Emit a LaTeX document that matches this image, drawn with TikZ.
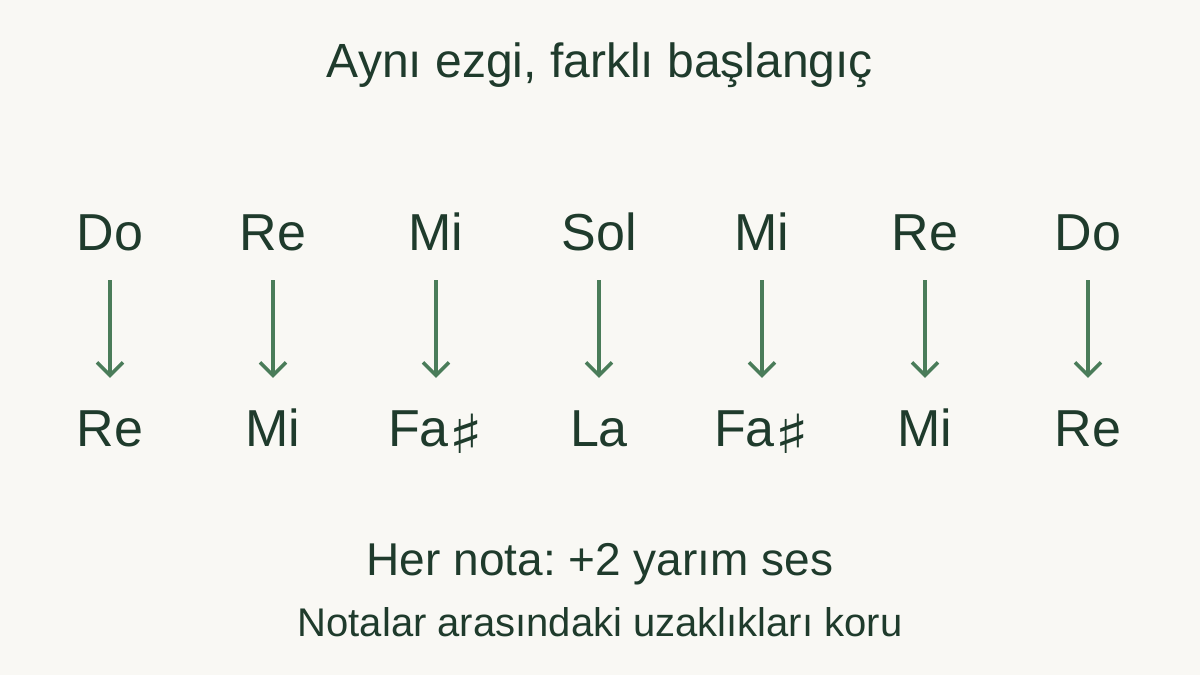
\documentclass[tikz,border=0pt]{standalone}
\usepackage{fontspec}
\usepackage{graphicx}
\setmainfont{Liberation Sans}
\newfontfamily\sharpfont{DejaVu Sans}
\usetikzlibrary{arrows.meta}

\definecolor{zemin}{HTML}{F9F8F4}
\definecolor{yazi}{HTML}{1F3B2C}
\definecolor{ok}{HTML}{4A7C59}

\newcommand{\diyez}{\raisebox{-7pt}{\scalebox{1.35}[1]{\sharpfont\fontsize{54}{54}\selectfont\char"266F}}}
\frenchspacing

\tikzset{
  nota/.style={inner sep=0pt, anchor=base, text=yazi, text height=36pt, text depth=0pt,
    font=\fontsize{52}{56}\selectfont},
  kaydir/.style={draw=ok, line width=3.5pt, -{Straight Barb[length=13pt,width=26pt]},
    shorten <=30pt, shorten >=32pt}
}

\begin{document}
\begin{tikzpicture}[x=1pt,y=1pt]
            \path[use as bounding box, fill=zemin] (0,0) rectangle (1200,-675);

            % baslik
            \node[inner sep=0pt, anchor=base, text=yazi, font=\fontsize{48}{52}\selectfont]
                (baslik) at (600,-77) {Aynı ezgi, farklı başlangıç};

            % ilk ezgi
            \node[nota] (ust1) at (110,-250) {Do};
            \node[nota] (ust2) at (273,-250) {Re};
            \node[nota] (ust3) at (436,-250) {Mi};
            \node[nota] (ust4) at (599,-250) {Sol};
            \node[nota] (ust5) at (762,-250) {Mi};
            \node[nota] (ust6) at (925,-250) {Re};
            \node[nota] (ust7) at (1088,-250) {Do};

            % kaydirilmis ezgi
            \node[nota] (alt1) at (110,-446) {Re};
            \node[nota] (alt2) at (273,-446) {Mi};
            \node[nota] (alt3) at (436,-446) {Fa\diyez};
            \node[nota] (alt4) at (599,-446) {La};
            \node[nota] (alt5) at (762,-446) {Fa\diyez};
            \node[nota] (alt6) at (925,-446) {Mi};
            \node[nota] (alt7) at (1088,-446) {Re};

            \draw[kaydir] (ust1.south) -- (alt1.north);
            \draw[kaydir] (ust2.south) -- (alt2.north);
            \draw[kaydir] (ust3.south) -- (alt3.north);
            \draw[kaydir] (ust4.south) -- (alt4.north);
            \draw[kaydir] (ust5.south) -- (alt5.north);
            \draw[kaydir] (ust6.south) -- (alt6.north);
            \draw[kaydir] (ust7.south) -- (alt7.north);

            % aciklama
            \node[inner sep=0pt, anchor=base, text=yazi, font=\fontsize{46}{50}\selectfont]
                (kural) at (600,-575) {Her nota: +2 yarım ses};
            \node[inner sep=0pt, anchor=base, text=yazi, font=\fontsize{40}{44}\selectfont]
                (not) at (600,-636) {Notalar arasındaki uzaklıkları koru};
\end{tikzpicture}
\end{document}
